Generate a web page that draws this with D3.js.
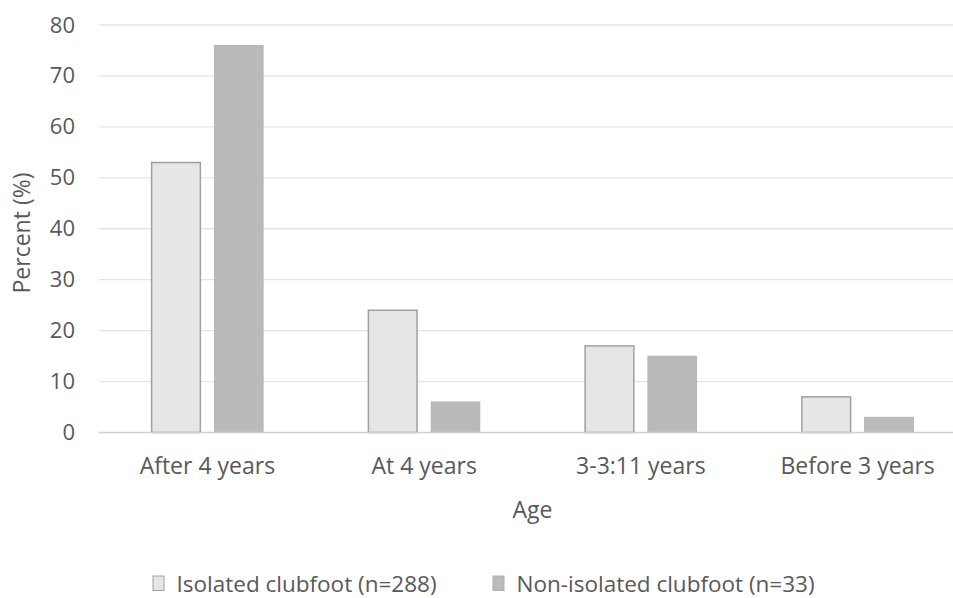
<!DOCTYPE html>
<html>
<head>
<meta charset="utf-8">
<script src="https://cdn.jsdelivr.net/npm/d3@7"></script>
<style>
  html, body { margin: 0; padding: 0; background: #fff; }
  svg { display: block; }
  text { font-family: "Open Sans", "Noto Sans", sans-serif; fill: #595959; }
</style>
</head>
<body>
<svg id="chart" width="953" height="598"></svg>
<script>
// Age at which clubfoot was treated, percent of each group
const categories = ["After 4 years", "At 4 years", "3-3:11 years", "Before 3 years"];
const seriesNames = ["Isolated clubfoot (n=288)", "Non-isolated clubfoot (n=33)"];
const isolated = [53, 24, 17, 7];
const nonIsolated = [76, 6, 15, 3];
const yTicks = [0, 10, 20, 30, 40, 50, 60, 70, 80];

const fills = ["#e6e6e6", "#bababa"];
const strokes = ["#a0a0a0", "#b0b0b0"];

const svg = d3.select("#chart");
const plotLeft = 99, plotRight = 966, plotTop = 25, plotBottom = 432.5;
const groupWidth = 113;

const x0 = d3.scaleBand().domain(categories).range([plotLeft, plotRight]);
const x1 = d3.scaleBand().domain([0, 1]).range([0, groupWidth]).paddingInner(0.2);
const y = d3.scaleLinear().domain([0, 80]).range([plotBottom, plotTop]);

// horizontal gridlines
svg.append("g").selectAll("line").data(yTicks.filter(t => t > 0)).join("line")
  .attr("x1", plotLeft).attr("x2", plotRight)
  .attr("y1", d => y(d)).attr("y2", d => y(d))
  .attr("stroke", "#e4e4e4").attr("stroke-width", 1.3);

// clustered bars
const rows = categories.map((c, i) => ({ c, v: [isolated[i], nonIsolated[i]] }));
const groups = svg.append("g").selectAll("g").data(rows).join("g")
  .attr("transform", d => `translate(${x0(d.c) + (x0.bandwidth() - groupWidth) / 2},0)`);
groups.selectAll("rect").data(d => d.v.map((v, k) => ({ v, k }))).join("rect")
  .attr("x", d => x1(d.k) + 0.75)
  .attr("width", x1.bandwidth() - 1.5)
  .attr("y", d => y(d.v))
  .attr("height", d => y(0) - y(d.v))
  .attr("fill", d => fills[d.k])
  .attr("stroke", d => strokes[d.k])
  .attr("stroke-width", d => d.k === 0 ? 1.5 : 0.8);

// baseline
svg.append("line").attr("x1", plotLeft).attr("x2", plotRight)
  .attr("y1", y(0)).attr("y2", y(0))
  .attr("stroke", "#d0d0d0").attr("stroke-width", 1.5);

// y axis labels
const yAxis = d3.axisLeft(y).tickValues(yTicks).tickSize(0).tickPadding(0);
const gy = svg.append("g").attr("transform", "translate(75,0)").call(yAxis);
gy.select(".domain").remove();
gy.selectAll("text").attr("font-size", 22).attr("fill", "#595959")
  .attr("font-family", "'Open Sans', sans-serif");

// x axis labels
const xAxis = d3.axisBottom(x0).tickSize(0).tickPadding(0);
const gx = svg.append("g").attr("transform", `translate(0,${plotBottom})`).call(xAxis);
gx.select(".domain").remove();
gx.selectAll("text").attr("font-size", 23).attr("fill", "#595959")
  .attr("font-family", "'Open Sans', sans-serif")
  .attr("y", 41.5).attr("dy", 0);

// axis titles
svg.append("text").attr("x", (plotLeft + plotRight) / 2).attr("y", 518).attr("text-anchor", "middle")
  .attr("font-size", 23).text("Age");
svg.append("text").attr("transform", "translate(30,233) rotate(-90)")
  .attr("text-anchor", "middle").attr("font-size", 23).text("Percent (%)");

// legend
const legendX = [153, 493];
const lg = svg.append("g").selectAll("g").data(seriesNames).join("g")
  .attr("transform", (d, i) => `translate(${legendX[i]},576)`);
lg.append("rect").attr("width", 11).attr("height", 14.5)
  .attr("fill", (d, i) => fills[i]).attr("stroke", (d, i) => strokes[i]).attr("stroke-width", 1);
lg.append("text").attr("x", 23.5).attr("y", 15.5).attr("font-size", 22.5).text(d => d);
</script>
</body>
</html>
